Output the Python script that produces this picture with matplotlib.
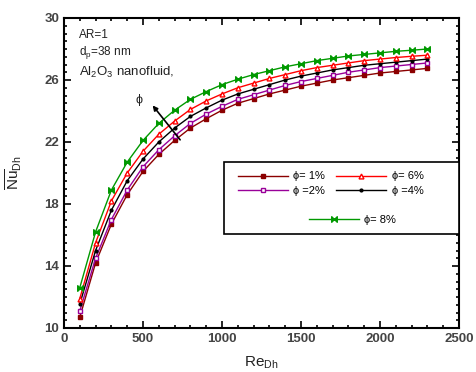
import matplotlib
matplotlib.use("Agg")
import matplotlib.pyplot as plt
from matplotlib.path import Path
from matplotlib.ticker import MultipleLocator, FixedLocator
from matplotlib.patches import Rectangle

plt.rcParams['font.family'] = ['Liberation Sans', 'DejaVu Sans']
plt.rcParams['mathtext.fontset'] = 'custom'
plt.rcParams['mathtext.rm'] = 'Liberation Sans'
plt.rcParams['mathtext.it'] = 'Liberation Sans:italic'

re = [100, 200, 300, 400, 500, 600, 700, 800, 900, 1000, 1100, 1200,
      1300, 1400, 1500, 1600, 1700, 1800, 1900, 2000, 2100, 2200, 2300]
nu_1 = [10.7, 14.2, 16.7, 18.6, 20.1, 21.2, 22.1, 22.9, 23.5, 24.05, 24.5, 24.8,
        25.1, 25.35, 25.6, 25.8, 26.0, 26.15, 26.3, 26.45, 26.55, 26.65, 26.75]
nu_2 = [11.1, 14.5, 17.0, 18.9, 20.4, 21.5, 22.4, 23.2, 23.8, 24.3, 24.75, 25.05,
        25.35, 25.65, 25.9, 26.1, 26.3, 26.5, 26.65, 26.8, 26.9, 27.0, 27.1]
nu_4 = [11.55, 15.0, 17.6, 19.5, 20.9, 22.0, 22.9, 23.65, 24.2, 24.7, 25.1, 25.4,
        25.7, 26.0, 26.25, 26.45, 26.65, 26.8, 26.95, 27.05, 27.15, 27.25, 27.35]
nu_6 = [11.9, 15.5, 18.2, 20.0, 21.4, 22.5, 23.35, 24.1, 24.65, 25.1, 25.5, 25.8,
        26.1, 26.35, 26.6, 26.8, 26.95, 27.1, 27.25, 27.35, 27.45, 27.53, 27.6]
nu_8 = [12.6, 16.2, 18.9, 20.7, 22.1, 23.2, 24.05, 24.75, 25.25, 25.7, 26.05, 26.35,
        26.6, 26.85, 27.05, 27.25, 27.4, 27.55, 27.65, 27.75, 27.85, 27.92, 28.0]
y_ticks = [10, 14, 18, 22, 26, 30]
x_ticks = [0, 500, 1000, 1500, 2000, 2500]

labels = {'1': 'ϕ= 1%', '2': 'ϕ =2%', '4': 'ϕ =4%', '6': 'ϕ= 6%', '8': 'ϕ= 8%'}

bowtie = Path([(-1, -1), (-1, 1), (1, -1), (1, 1), (-1, -1)],
              [Path.MOVETO, Path.LINETO, Path.LINETO, Path.LINETO, Path.CLOSEPOLY])

fig = plt.figure(figsize=(4.77, 3.72), dpi=100)
ax = fig.add_axes([64/477, 1-328/372, 395/477, 310/372])

l1, = ax.plot(re, nu_1, color='#8B0000', lw=1, marker='s', ms=3.5, mfc='#8B0000',
              label=labels['1'])
l2, = ax.plot(re, nu_2, color='#990099', lw=1, marker='s', ms=3.5, mfc='white',
              mew=1, label=labels['2'])
l4, = ax.plot(re, nu_4, color='black', lw=1, marker='o', ms=2, mfc='black',
              label=labels['4'])
l6, = ax.plot(re, nu_6, color='#FF0000', lw=1, marker='^', ms=3.5, mfc='white',
              mew=1, label=labels['6'])
l8, = ax.plot(re, nu_8, color='#009900', lw=1, marker=bowtie, ms=4, mfc='#009900',
              label=labels['8'])

ax.set_xlim(0, 2500)
ax.set_ylim(10, 30)
ax.xaxis.set_major_locator(FixedLocator(x_ticks))
ax.xaxis.set_minor_locator(MultipleLocator(100))
ax.yaxis.set_major_locator(FixedLocator(y_ticks))
ax.yaxis.set_minor_locator(MultipleLocator(0.5))
ax.tick_params(which='both', direction='in', top=True, right=True,
               labelsize=9.5, labelcolor='#444444', width=1.2)
ax.tick_params(which='major', length=5)
ax.tick_params(which='minor', length=2.5)
for lab in ax.get_xticklabels() + ax.get_yticklabels():
    lab.set_fontweight('bold')
for s in ax.spines.values():
    s.set_linewidth(1.5)

ax.set_xlabel(r'$\mathrm{Re}_{\mathrm{Dh}}$', fontsize=11, color='#222222', labelpad=2)
ax.xaxis.set_label_coords(0.5, -0.085)
ax.set_ylabel(r'$\overline{\mathrm{Nu}}_{\mathrm{Dh}}$', fontsize=11, color='#222222')
ax.yaxis.set_label_coords(-0.1, 0.5)

ax.text(95, 28.9, 'AR=1', fontsize=8.5, va='center', color='#222222')
ax.text(95, 27.8, r'd$_\mathrm{p}$=38 nm', fontsize=8.5, va='center', color='#222222')
ax.text(95, 26.5, r'Al$_2$O$_3$ nanofluid,', fontsize=9.5, va='center', color='#222222')
ax.annotate('', xy=(550, 24.5), xytext=(746, 22.0),
            arrowprops=dict(arrowstyle='-|>', color='black', lw=1.2, mutation_scale=7))
ax.text(475, 24.7, 'ϕ', fontsize=9, va='center', ha='center', color='#222222')

ax.add_patch(Rectangle((0.405, 0.303), 0.595, 0.232, transform=ax.transAxes,
                       fill=True, facecolor='white', edgecolor='black', lw=1.2, zorder=5))
leg1 = ax.legend(handles=[l1, l2, l6, l4], ncol=2, frameon=False, fontsize=8,
                 loc='upper left', bbox_to_anchor=(0.42, 0.53), handlelength=4.5,
                 columnspacing=1.0, labelspacing=0.4, handletextpad=0.5, borderpad=0.2)
leg1.set_zorder(6)
ax.add_artist(leg1)
leg2 = ax.legend(handles=[l8], frameon=False, fontsize=8, loc='upper left',
                 bbox_to_anchor=(0.6, 0.39), handlelength=4.5, handletextpad=0.5,
                 borderpad=0.2)
leg2.set_zorder(6)

fig.savefig('out.png', dpi=100)
